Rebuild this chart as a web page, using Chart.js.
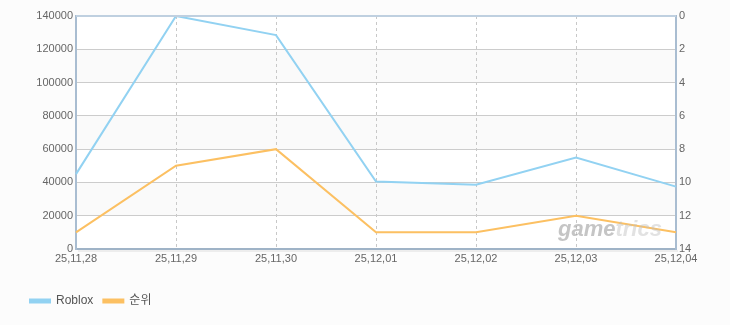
<!DOCTYPE html>
<html>
<head>
<meta charset="utf-8">
<script src="https://cdn.jsdelivr.net/npm/chart.js@4"></script>
<style>
  html, body { margin: 0; padding: 0; background: #fcfcfc; }
  #wrap { width: 730px; height: 325px; position: relative; }
</style>
</head>
<body>
<div id="wrap"><canvas id="chart" width="730" height="325"></canvas></div>
<script>
const labels = ['25,11,28', '25,11,29', '25,11,30', '25,12,01', '25,12,02', '25,12,03', '25,12,04'];
const robloxValues = [45000, 140000, 128500, 40500, 38600, 55000, 37500];
const rankValues = [13, 9, 8, 13, 13, 12, 13];

const FONT = "'Liberation Sans', Arial, 'Noto Sans CJK KR', sans-serif";

// alternating bands + top border of the plot
const plotDecor = {
    id: 'plotDecor',
    beforeDraw(chart) {
        const { ctx, chartArea: a, scales } = chart;
        const y = scales.y;
        const ticks = y.ticks;
        ctx.save();
        ctx.fillStyle = '#ffffff';
        ctx.fillRect(a.left, a.top, a.right - a.left, a.bottom - a.top);
        for (let i = 0; i < ticks.length - 1; i++) {
            if (i % 2 === 0) continue;
            const y0 = y.getPixelForValue(ticks[i].value);
            const y1 = y.getPixelForValue(ticks[i + 1].value);
            ctx.fillStyle = '#fafafa';
            ctx.fillRect(a.left, y1, a.right - a.left, y0 - y1);
        }
        ctx.restore();
    },
    afterDraw(chart) {
        const { ctx, chartArea: a } = chart;
        ctx.save();
        ctx.strokeStyle = '#bfd0e0';
        ctx.lineWidth = 2;
        ctx.beginPath();
        ctx.moveTo(a.left, a.top);
        ctx.lineTo(a.right, a.top);
        ctx.stroke();
        // shadow under bottom axis
        ctx.strokeStyle = 'rgba(0,0,0,0.06)';
        ctx.lineWidth = 2;
        ctx.beginPath();
        ctx.moveTo(a.left + 2, a.bottom + 2);
        ctx.lineTo(a.right + 2, a.bottom + 2);
        ctx.stroke();
        // watermark
        ctx.font = "italic bold 22px 'Liberation Sans', sans-serif";
        ctx.textBaseline = 'alphabetic';
        const x0 = a.right - 118;
        const yb = a.bottom - 13;
        ctx.fillStyle = 'rgba(150,150,150,0.55)';
        ctx.fillText('game', x0, yb);
        const w = ctx.measureText('game').width;
        ctx.fillStyle = 'rgba(190,190,190,0.45)';
        ctx.fillText('trics', x0 + w, yb);
        ctx.restore();
    }
};

new Chart(document.getElementById('chart'), {
    type: 'line',
    data: {
        labels: labels,
        datasets: [{
            label: 'Roblox',
            data: robloxValues,
            yAxisID: 'y',
            borderColor: '#92d2f2',
            backgroundColor: '#92d2f2',
            borderWidth: 2,
            pointRadius: 0,
            tension: 0,
        }, {
            label: '순위',
            data: rankValues,
            yAxisID: 'y1',
            borderColor: '#fcc062',
            backgroundColor: '#fcc062',
            borderWidth: 2,
            pointRadius: 0,
            tension: 0,
        }]
    },
    options: {
        responsive: false,
        animation: false,
        layout: { padding: { left: 20, top: 16, right: 0, bottom: 8 } },
        plugins: {
            legend: {
                position: 'bottom',
                align: 'start',
                labels: {
                    boxWidth: 20,
                    boxHeight: 3,
                    padding: 10,
                    color: '#555',
                    font: { family: FONT, size: 12 },
                }
            },
            tooltip: { enabled: false }
        },
        scales: {
            x: {
                offset: false,
                grid: { color: '#c8c8c8', tickLength: 0, drawTicks: false },
                border: { display: true, color: '#9fb3c7', width: 2, dash: [3, 3] },
                ticks: { color: '#666', font: { family: FONT, size: 11 }, padding: 3, maxRotation: 0, autoSkip: false },
                afterFit: s => { s.height = 36; }
            },
            y: {
                position: 'left',
                min: 0,
                max: 140000,
                ticks: { stepSize: 20000, color: '#666', font: { family: FONT, size: 11 }, padding: 3, callback: v => String(v) },
                grid: { color: '#cccccc', drawTicks: false },
                border: { color: '#a9bdd1', width: 2 },
                afterFit: s => { s.width = 56; }
            },
            y1: {
                position: 'right',
                min: 0,
                max: 14,
                reverse: true,
                ticks: { stepSize: 2, color: '#666', font: { family: FONT, size: 11 }, padding: 3, callback: v => String(v) },
                grid: { display: false, drawTicks: false },
                border: { color: '#a9bdd1', width: 2 },
                afterFit: s => { s.width = 54; }
            }
        }
    },
    plugins: [plotDecor]
});
</script>
</body>
</html>
